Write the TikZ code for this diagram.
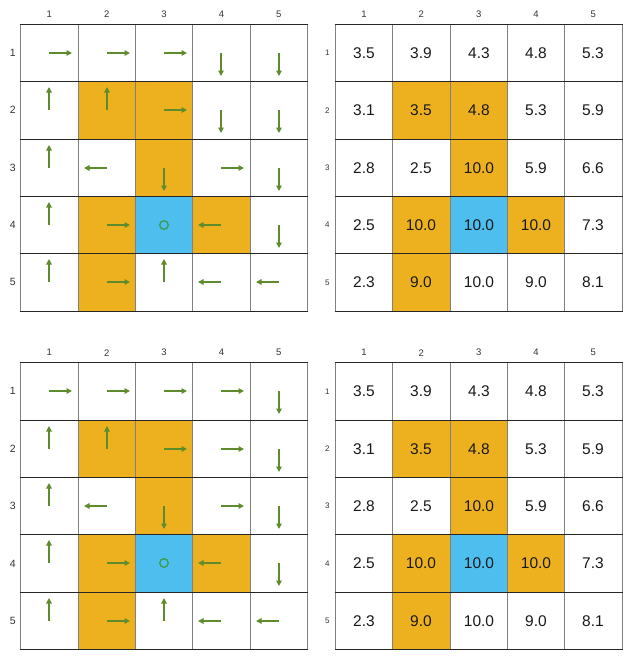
\documentclass[tikz,border=0pt]{standalone}
\usepackage{fontspec}
\setmainfont{Liberation Sans}
\usetikzlibrary{arrows.meta}
\definecolor{cellorange}{rgb}{0.929,0.694,0.125}
\definecolor{cellblue}{rgb}{0.302,0.745,0.933}
\definecolor{arrowgreen}{HTML}{5E8C2C}
\definecolor{goalgreen}{HTML}{3E9A4E}
\definecolor{labelgray}{HTML}{333333}
\begin{document}
\begin{tikzpicture}[x=1pt,y=-1pt,
  hline/.style={black!85, line width=0.9pt},
  vline/.style={black!50, line width=0.9pt},
  cellnode/.style={inner sep=0pt, minimum size=1pt},
  collabel/.style={text=labelgray, font=\fontsize{9.5}{11}\selectfont, inner sep=0pt},
  rowlabelL/.style={text=labelgray, font=\fontsize{10.5}{12}\selectfont, inner sep=0pt},
  rowlabelR/.style={text=labelgray, font=\fontsize{8}{10}\selectfont, inner sep=0pt},
  valtext/.style={text=black!90, font=\fontsize{15.5}{18}\selectfont, inner sep=0pt},
  pol/.style={arrowgreen, line width=2pt, -{Triangle[length=5.5pt,width=5.5pt]}},
  goal/.style={goalgreen, line width=1.3pt}]
\useasboundingbox (0,0) rectangle (634,656);
\fill[white] (0,0) rectangle (634,656);
\def\S{57.35}
\def\L{23}
\foreach \g/\ox/\oy in {TL/20.7/24.3, TR/335.3/24.3, BL/20.7/362.7, BR/335.3/362.7} {
  \foreach \r/\c in {2/2,2/3,3/3,4/2,4/4,5/2}
    \fill[cellorange] ({\ox+(\c-1)*\S},{\oy+(\r-1)*\S}) rectangle ++(\S,\S);
  \fill[cellblue] ({\ox+2*\S},{\oy+3*\S}) rectangle ++(\S,\S);
  \foreach \i in {0,...,5}
    \draw[vline] ({\ox+\i*\S},\oy) -- ++(0,5*\S);
  \foreach \i in {0,...,5}
    \draw[hline] ({\ox-0.45},{\oy+\i*\S}) -- ++(5*\S+0.9,0);
  \foreach \r in {1,...,5}
    \foreach \c in {1,...,5}
      \node[cellnode] (\g-\r-\c) at ({round(\ox+(\c-0.5)*\S)},{round(\oy+(\r-0.5)*\S)}) {};
  \foreach \c in {1,...,5}
    \node[collabel] (\g-col\c) at ({\ox+(\c-0.5)*\S},{\oy-10}) {\c};
}
% row labels
\foreach \g/\x/\oy in {TL/12.7/24.3, BL/12.7/362.7}
  \foreach \r in {1,...,5}
    \node[rowlabelL] (\g-row\r) at (\x,{\oy+(\r-0.5)*\S}) {\r};
\foreach \g/\x/\oy in {TR/327.3/24.3, BR/327.3/362.7}
  \foreach \r in {1,...,5}
    \node[rowlabelR] (\g-row\r) at (\x,{\oy+(\r-0.5)*\S}) {\r};
% values
\foreach \g in {TR,BR}
  \foreach \r/\c/\v in {1/1/3.5,1/2/3.9,1/3/4.3,1/4/4.8,1/5/5.3,
                        2/1/3.1,2/2/3.5,2/3/4.8,2/4/5.3,2/5/5.9,
                        3/1/2.8,3/2/2.5,3/3/10.0,3/4/5.9,3/5/6.6,
                        4/1/2.5,4/2/10.0,4/3/10.0,4/4/10.0,4/5/7.3,
                        5/1/2.3,5/2/9.0,5/3/10.0,5/4/9.0,5/5/8.1}
    \node[valtext] (\g-v-\r-\c) at (\g-\r-\c) {\v};
% policies
\foreach \g/\r/\c/\dx/\dy in {
  TL/1/1/1/0, TL/1/2/1/0, TL/1/3/1/0, TL/1/4/0/1, TL/1/5/0/1,
  TL/2/1/0/-1, TL/2/2/0/-1, TL/2/3/1/0, TL/2/4/0/1, TL/2/5/0/1,
  TL/3/1/0/-1, TL/3/2/-1/0, TL/3/3/0/1, TL/3/4/1/0, TL/3/5/0/1,
  TL/4/1/0/-1, TL/4/2/1/0, TL/4/4/-1/0, TL/4/5/0/1,
  TL/5/1/0/-1, TL/5/2/1/0, TL/5/3/0/-1, TL/5/4/-1/0, TL/5/5/-1/0,
  BL/1/1/1/0, BL/1/2/1/0, BL/1/3/1/0, BL/1/4/1/0, BL/1/5/0/1,
  BL/2/1/0/-1, BL/2/2/0/-1, BL/2/3/1/0, BL/2/4/1/0, BL/2/5/0/1,
  BL/3/1/0/-1, BL/3/2/-1/0, BL/3/3/0/1, BL/3/4/1/0, BL/3/5/0/1,
  BL/4/1/0/-1, BL/4/2/1/0, BL/4/4/-1/0, BL/4/5/0/1,
  BL/5/1/0/-1, BL/5/2/1/0, BL/5/3/0/-1, BL/5/4/-1/0, BL/5/5/-1/0}
  \draw[pol] (\g-\r-\c.center) -- ++({\dx*\L},{\dy*\L});
\foreach \g in {TL,BL}
  \draw[goal] (\g-4-3.center) circle (4.3);
\end{tikzpicture}
\end{document}
